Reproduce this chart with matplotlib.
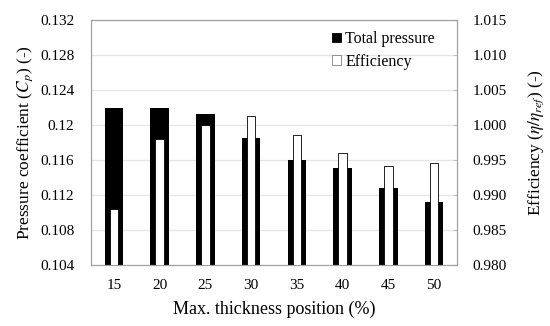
import matplotlib
matplotlib.use("Agg")
import matplotlib.pyplot as plt
import numpy as np
from matplotlib.patches import Patch

categories = ["15", "20", "25", "30", "35", "40", "45", "50"]
total_pressure = [0.1219, 0.1219, 0.1213, 0.11855, 0.1160, 0.11505, 0.11277, 0.11117]
efficiency = [0.9880, 0.9980, 1.0000, 1.0013, 0.9985, 0.9960, 0.9941, 0.9945]
left_ticks = [0.104, 0.108, 0.112, 0.116, 0.12, 0.124, 0.128, 0.132]
left_labels = ["0.104", "0.108", "0.112", "0.116", "0.12", "0.124", "0.128", "0.132"]
right_ticks = [0.980, 0.985, 0.990, 0.995, 1.000, 1.005, 1.010, 1.015]

plt.rcParams['font.family'] = ['Liberation Serif', 'DejaVu Serif']
plt.rcParams['mathtext.fontset'] = 'stix'

fig = plt.figure(figsize=(5.5, 3.26), dpi=100)
ax = fig.add_axes([91/550, 1-265/326, 366/550, 245/326])
ax2 = ax.twinx()

x = np.arange(len(categories))
ax.bar(x, [v - 0.104 for v in total_pressure], bottom=0.104, width=0.4, color='black', zorder=2)
ax.set_ylim(0.104, 0.132)
ax.set_xlim(-0.5, len(categories) - 0.5)
ax.set_yticks(left_ticks)
ax.set_yticklabels(left_labels)
ax.set_xticks(x)
ax.set_xticklabels(categories)
ax.grid(axis='y', color='#e6e6e6', linewidth=1, zorder=0)
ax.set_axisbelow(True)
ax.tick_params(axis='y', length=0, labelsize=11, pad=12)
ax.tick_params(axis='x', length=0, labelsize=11, pad=10)

ax2.bar(x, [v - 0.98 for v in efficiency], bottom=0.98, width=0.19, color='white',
        edgecolor='black', linewidth=0.6, zorder=3)
ax2.set_ylim(0.980, 1.015)
ax2.set_yticks(right_ticks)
ax2.set_yticklabels([f"{t:.3f}" for t in right_ticks])
ax2.tick_params(axis='y', length=3, direction='in', color='#c0c0c0', labelsize=11, pad=11)

for a in (ax, ax2):
    for s in a.spines.values():
        s.set_color('#a0a0a0')
        s.set_linewidth(0.8)

ax.set_xlabel("Max. thickness position (%)", fontsize=13, labelpad=6.5)
ax.set_ylabel("Pressure coefficient ($C_p$) (-)", fontsize=12.5, labelpad=4)
ax2.set_ylabel(r"Efficiency ($\eta/\eta_{ref}$) (-)", fontsize=12.5, labelpad=14)

handles = [Patch(facecolor='black', edgecolor='black', linewidth=0.6),
           Patch(facecolor='white', edgecolor='#808080', linewidth=0.6)]
leg = ax2.legend(handles, ["Total pressure", "Efficiency"], loc='upper right', frameon=False,
                 fontsize=11.5, handlelength=0.55, handleheight=0.55, handletextpad=0.25,
                 labelspacing=0.4, borderaxespad=0.3, bbox_to_anchor=(0.97, 1.0))

fig.savefig("out.png", dpi=100)
